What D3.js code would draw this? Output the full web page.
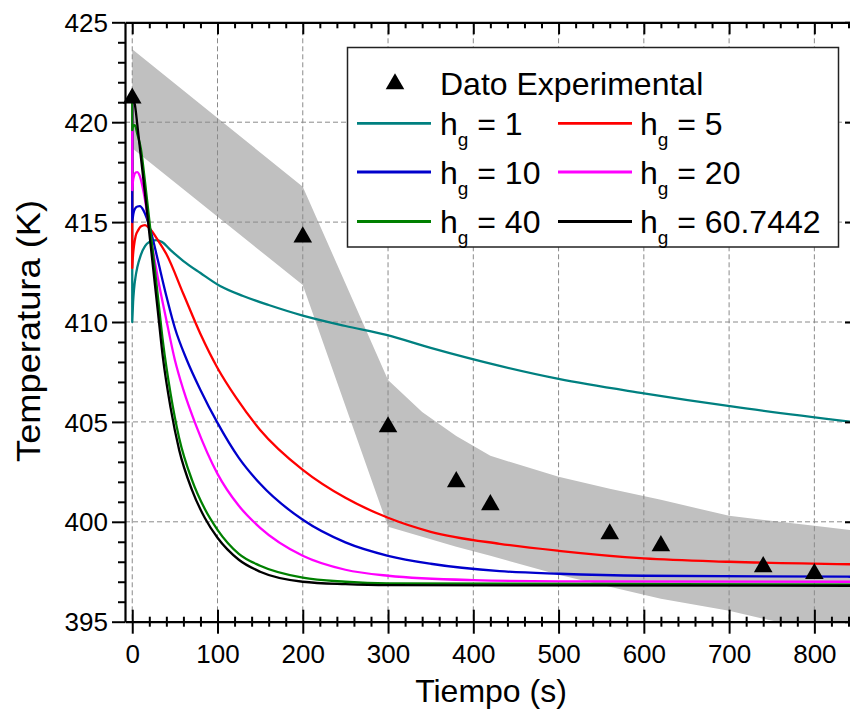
<!DOCTYPE html>
<html><head><meta charset="utf-8">
<script src="https://cdn.jsdelivr.net/npm/d3@7/dist/d3.min.js"></script>
<style>body{margin:0;background:#fff}svg{display:block}</style>
</head><body><svg id="c" width="850" height="723"></svg>
<script>
// ---------- data ----------
const expTime = [0, 200, 300, 380, 420, 560, 620, 740, 800];
const expTemp = [421.2, 414.25, 404.75, 402.0, 400.85, 399.39, 398.8, 397.75, 397.4];

const bandUpTime = [0, 200, 300, 340, 380, 420, 500, 560, 620, 700, 800, 850];
const bandUp     = [423.65, 416.77, 407.1, 405.5, 404.3, 403.3, 402.25, 401.65, 401.1, 400.3, 399.8, 399.55];
const bandLoTime = [0, 200, 300, 380, 420, 500, 560, 620, 700, 740, 800, 850];
const bandLo     = [418.7, 411.85, 399.75, 398.75, 398.3, 397.35, 396.75, 396.15, 395.55, 395.15, 394.6, 394.2];

const hg1Time = [0, 0, 1, 2, 4, 6, 10, 15, 20, 28, 35, 45, 60, 80, 103, 130, 160, 200, 250, 298, 350, 431, 500, 600, 705, 850];
const hg1Temp = [421.2, 410.0, 411.0, 411.6, 412.3, 412.75, 413.35, 413.8, 414.0, 414.1, 414.0, 413.6, 413.05, 412.45, 411.8, 411.3, 410.85, 410.32, 409.8, 409.35, 408.7, 407.8, 407.15, 406.43, 405.76, 404.97];

const hg5Time = [0, 0, 1, 2, 4, 7, 10, 15, 20, 30, 40, 60, 80, 100, 122, 150, 200, 250, 300, 350, 431, 500, 600, 700, 850];
const hg5Temp = [421.2, 412.7, 413.4, 413.8, 414.3, 414.6, 414.78, 414.85, 414.7, 414.1, 413.4, 411.4, 409.4, 407.7, 406.2, 404.6, 402.6, 401.2, 400.2, 399.5, 398.9, 398.55, 398.17, 398.0, 397.87];

const hg10Time = [0, 0, 1.5, 3, 6, 9, 13, 17, 20, 25, 30, 40, 50, 64, 80, 100, 125, 150, 200, 250, 300, 350, 431, 500, 600, 850];
const hg10Temp = [421.2, 415.0, 415.45, 415.65, 415.78, 415.8, 415.6, 415.2, 414.8, 414.0, 413.1, 411.3, 409.7, 408.1, 406.6, 404.95, 403.2, 401.9, 400.1, 398.97, 398.3, 397.9, 397.53, 397.4, 397.3, 397.25];

const hg20Time = [0, 0, 1, 2, 4, 6, 8, 10, 15, 20, 25, 30, 40, 50, 60, 75, 100, 125, 150, 200, 250, 300, 400, 500, 850];
const hg20Temp = [421.2, 416.6, 417.1, 417.3, 417.48, 417.5, 417.4, 417.15, 416.1, 414.7, 413.4, 412.2, 410.1, 408.1, 406.6, 404.8, 402.4, 400.8, 399.7, 398.3, 397.6, 397.3, 397.08, 397.02, 397.0];

const hg40Time = [0, 0, 1, 3, 6, 10, 15, 20, 25, 30, 36, 45, 55, 70, 85, 100, 125, 150, 200, 250, 300, 850];
const hg40Temp = [421.2, 419.6, 419.8, 419.85, 419.4, 418.7, 417.0, 415.1, 413.2, 411.3, 409.0, 406.4, 404.2, 402.1, 400.65, 399.6, 398.4, 397.8, 397.2, 397.0, 396.92, 396.85];

const hg60Time = [0, 3, 6, 10, 15, 20, 25, 30, 36, 45, 55, 70, 85, 100, 125, 150, 200, 250, 300, 850];
const hg60Temp = [421.2, 420.9, 419.85, 418.3, 416.4, 414.45, 412.5, 410.55, 408.2, 405.7, 403.6, 401.6, 400.2, 399.2, 398.1, 397.5, 397.0, 396.88, 396.83, 396.8];

const seriesLabels = ["1", "5", "10", "20", "40", "60.7442"];
const seriesColors = ["#008080", "#ff0000", "#0000cc", "#ff00ff", "#008000", "#000000"];
const seriesTimes = [hg1Time, hg5Time, hg10Time, hg20Time, hg40Time, hg60Time];
const seriesTemps = [hg1Temp, hg5Temp, hg10Temp, hg20Temp, hg40Temp, hg60Temp];

const xMajor = [0, 100, 200, 300, 400, 500, 600, 700, 800];
const yMajor = [395, 400, 405, 410, 415, 420, 425];

// ---------- layout ----------
const svg = d3.select("#c");
const L = 125, R = 857, T = 22.3, B = 621.7;
const x = d3.scaleLinear().domain([-8.5, 850]).range([L, R]);
const y = d3.scaleLinear().domain([395, 425]).range([B, T]);
const FONT = "'Liberation Sans', Arial, Helvetica, sans-serif";

svg.append("rect").attr("width", 850).attr("height", 723).attr("fill", "#fff");
svg.append("clipPath").attr("id", "clip").append("rect")
  .attr("x", L).attr("y", T).attr("width", R - L).attr("height", B - T);

const plot = svg.append("g").attr("clip-path", "url(#clip)");

// band
const bandPts = bandUpTime.map((t, i) => [t, bandUp[i]])
  .concat(bandLoTime.map((t, i) => [t, bandLo[i]]).reverse());
plot.append("path")
  .attr("d", d3.line().x(d => x(d[0])).y(d => y(d[1]))(bandPts) + "Z")
  .attr("fill", "#c0c0c0");

// grid
plot.append("g").selectAll("line").data(xMajor).join("line")
  .attr("x1", d => x(d)).attr("x2", d => x(d)).attr("y1", T).attr("y2", B)
  .attr("stroke", "#8a8a8a").attr("stroke-width", 1).attr("stroke-dasharray", "5,3");
plot.append("g").selectAll("line").data(yMajor.filter(v => v > 395 && v < 425)).join("line")
  .attr("x1", L).attr("x2", R).attr("y1", d => y(d)).attr("y2", d => y(d))
  .attr("stroke", "#8a8a8a").attr("stroke-width", 1).attr("stroke-dasharray", "5,3");

// curves
const lineGen = d3.line().x(d => x(d[0])).y(d => y(d[1])).curve(d3.curveMonotoneX);
seriesTimes.forEach((ts, k) => {
  const pts = ts.map((t, i) => [t, seriesTemps[k][i]]);
  let d;
  if (pts.length > 1 && pts[1][0] === pts[0][0]) {
    d = "M" + x(pts[0][0]) + "," + y(pts[0][1]) + "L" + lineGen(pts.slice(1)).slice(1);
  } else d = lineGen(pts);
  plot.append("path").attr("d", d).attr("fill", "none")
    .attr("stroke", seriesColors[k]).attr("stroke-width", 2.3).attr("stroke-linejoin", "round");
});

// experimental triangles
const tri = d3.symbol().type(d3.symbolTriangle).size(150);
svg.append("g").selectAll("path").data(expTime.map((t, i) => [t, expTemp[i]])).join("path")
  .attr("d", tri)
  .attr("transform", d => `translate(${x(d[0])},${y(d[1])})`)
  .attr("fill", "#000");

// ---------- axes ----------
function styleAxis(g) {
  g.selectAll("path.domain").attr("stroke", "#000").attr("stroke-width", 2.2);
  g.selectAll(".tick line").attr("stroke", "#000").attr("stroke-width", 2);
  g.selectAll("text").attr("font-family", FONT).attr("font-size", 26).attr("fill", "#000");
}
const xMinor = d3.range(-0, 851, 20).filter(v => v % 100 !== 0);
const yMinor = d3.range(395, 426, 1).filter(v => v % 5 !== 0);

// bottom
const gB = svg.append("g").attr("transform", `translate(0,${B})`)
  .call(d3.axisBottom(x).tickValues(xMajor).tickSize(12).tickSizeOuter(0).tickPadding(0).tickFormat(d3.format("d")));
gB.selectAll(".tick line").attr("y1", -12);
gB.selectAll(".tick text").attr("y", 41.5).attr("dy", 0);
styleAxis(gB);
const gBm = svg.append("g").attr("transform", `translate(0,${B})`)
  .call(d3.axisBottom(x).tickValues(xMinor).tickSize(5).tickSizeOuter(0).tickFormat(""));
gBm.select("path.domain").remove();
gBm.selectAll(".tick line").attr("y1", -5);
styleAxis(gBm);

// top
const gT = svg.append("g").attr("transform", `translate(0,${T})`)
  .call(d3.axisTop(x).tickValues(xMajor).tickSize(-12).tickSizeOuter(0).tickFormat(""));
styleAxis(gT);
const gTm = svg.append("g").attr("transform", `translate(0,${T})`)
  .call(d3.axisTop(x).tickValues(xMinor).tickSize(-6).tickSizeOuter(0).tickFormat(""));
gTm.select("path.domain").remove();
styleAxis(gTm);

// left
const gL = svg.append("g").attr("transform", `translate(${L},0)`)
  .call(d3.axisLeft(y).tickValues(yMajor).tickSize(13).tickSizeOuter(0).tickPadding(4).tickFormat(d3.format("d")));
gL.selectAll(".tick text").attr("dy", "0.35em");
styleAxis(gL);
const gLm = svg.append("g").attr("transform", `translate(${L},0)`)
  .call(d3.axisLeft(y).tickValues(yMinor).tickSize(7).tickSizeOuter(0).tickFormat(""));
gLm.select("path.domain").remove();
styleAxis(gLm);

// right (mostly off-canvas)
const gR = svg.append("g").attr("transform", `translate(${R},0)`)
  .call(d3.axisRight(y).tickValues(yMajor).tickSize(-12).tickSizeOuter(0).tickFormat(""));
styleAxis(gR);
const gRm = svg.append("g").attr("transform", `translate(${R},0)`)
  .call(d3.axisRight(y).tickValues(yMinor).tickSize(-6).tickSizeOuter(0).tickFormat(""));
gRm.select("path.domain").remove();
styleAxis(gRm);

// axis titles
svg.append("text").attr("x", (L + R) / 2).attr("y", 702).attr("text-anchor", "middle")
  .attr("font-family", FONT).attr("font-size", 32).text("Tiempo (s)");
svg.append("text").attr("transform", `translate(40,331) rotate(-90)`).attr("text-anchor", "middle")
  .attr("font-family", FONT).attr("font-size", 33)
  .attr("textLength", 262).attr("lengthAdjust", "spacingAndGlyphs").text("Temperatura (K)");

// ---------- legend ----------
const lg = svg.append("g");
lg.append("rect").attr("x", 347.5).attr("y", 47.5).attr("width", 491).attr("height", 199.5)
  .attr("fill", "#fff").attr("stroke", "#222").attr("stroke-width", 1.5);
lg.append("path").attr("d", d3.symbol().type(d3.symbolTriangle).size(150))
  .attr("transform", "translate(395,84)").attr("fill", "#000");
lg.append("text").attr("x", 440).attr("y", 95).attr("font-family", FONT).attr("font-size", 32)
  .text("Dato Experimental");
const rowsY = [123.3, 172, 221.5];
seriesLabels.forEach((lab, k) => {
  const row = Math.floor(k / 2), col = k % 2;
  const ly = rowsY[row];
  const lx0 = col === 0 ? 357 : 558, tx = col === 0 ? 440 : 640;
  lg.append("line").attr("x1", lx0).attr("x2", lx0 + 74).attr("y1", ly).attr("y2", ly)
    .attr("stroke", seriesColors[k]).attr("stroke-width", 2.8);
  const t = lg.append("text").attr("x", tx).attr("y", ly + 11.7).attr("font-family", FONT).attr("font-size", 32);
  t.append("tspan").text("h");
  t.append("tspan").attr("font-size", 19).attr("dy", 11).text("g");
  t.append("tspan").attr("dy", -11).text(" = " + lab);
});
</script>
</body></html>
